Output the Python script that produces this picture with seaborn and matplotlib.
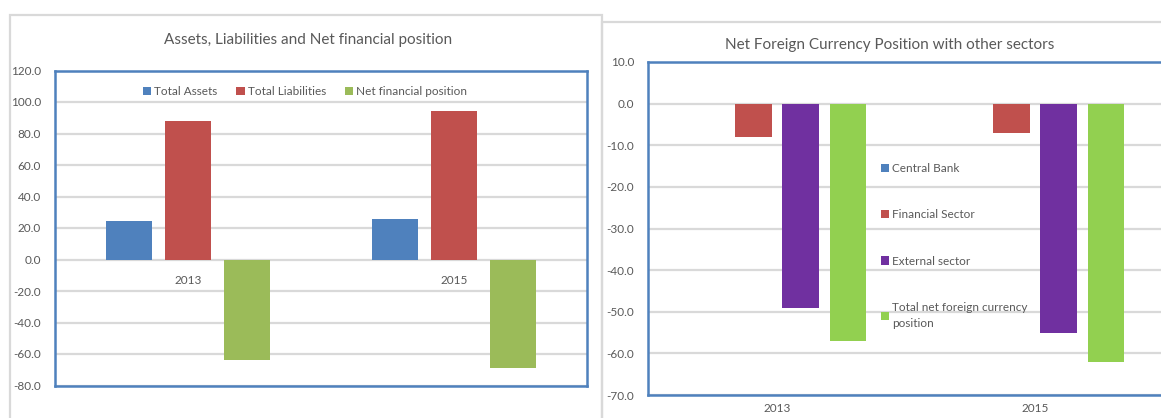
import pandas as pd
import matplotlib.pyplot as plt
import matplotlib.ticker as mticker
from matplotlib.patches import Rectangle
import seaborn as sns

# data
years = ["2013", "2015"]

assets = [24.4, 25.7]
liabilities = [88.0, 94.3]
net_position = [-63.6, -68.7]
left_series = ["Total Assets", "Total Liabilities", "Net financial position"]

central_bank = [0.0, 0.0]
financial_sector = [-7.9, -7.1]
external_sector = [-49.0, -55.0]
total_net_fx = [-57.0, -62.0]
right_series = ["Central Bank", "Financial Sector", "External sector",
                "Total net foreign currency\nposition"]

left_colors = ["#4F81BD", "#C0504D", "#9BBB59"]
right_colors = ["#4F81BD", "#C0504D", "#7030A0", "#92D050"]

TXT = "#595959"
GRID = "#D9D9D9"
BOX = "#4F81BD"

sns.set_theme(style="white")
plt.rcParams["font.family"] = ["Lato", "DejaVu Sans"]
plt.rcParams["axes.unicode_minus"] = False


def long_form(series_names, columns):
    rows = []
    for name, vals in zip(series_names, columns):
        for yr, v in zip(years, vals):
            rows.append({"year": yr, "series": name, "value": v})
    return pd.DataFrame(rows)


left_df = long_form(left_series, [assets, liabilities, net_position])
right_df = long_form(right_series, [central_bank, financial_sector, external_sector, total_net_fx])

W, H = 1161, 418
fig = plt.figure(figsize=(W / 100, H / 100), dpi=100)


def px_rect(x0, y0, x1, y1):
    return [x0 / W, 1 - y1 / H, (x1 - x0) / W, (y1 - y0) / H]


# panel frames (light grey, like the Excel chart areas)
fig.add_artist(Rectangle((10 / W, -0.1), (602 - 10) / W, 1.1 - 15 / H,
                         transform=fig.transFigure, fill=False, ec=GRID, lw=1.6))
fig.add_artist(Rectangle((602 / W, -0.1), 1.0, 1.1 - 22 / H,
                         transform=fig.transFigure, fill=False, ec=GRID, lw=1.6))


def style_axes(ax, ymin, ymax, step):
    ax.set_ylim(ymin, ymax)
    ax.yaxis.set_major_locator(mticker.MultipleLocator(step))
    ax.yaxis.set_major_formatter(mticker.FormatStrFormatter("%.1f"))
    ax.yaxis.grid(True, color=GRID, lw=1.6)
    ax.set_axisbelow(True)
    for sp in ax.spines.values():
        sp.set_visible(True)
        sp.set_color(BOX)
        sp.set_linewidth(1.8)
    ax.tick_params(axis="y", length=0, pad=10, labelsize=8.5, labelcolor=TXT)
    ax.set_xlabel("")
    ax.set_ylabel("")


# ---- left chart
ax1 = fig.add_axes(px_rect(55, 70.5, 587, 385.5))
sns.barplot(data=left_df, x="year", y="value", hue="series", hue_order=left_series,
            palette=left_colors, saturation=1, width=0.665, gap=0.22,
            linewidth=0, ax=ax1)
style_axes(ax1, -80, 120, 20)
ax1.tick_params(axis="x", length=0, labelbottom=False)
# year labels sit right under the zero line
sec = ax1.secondary_xaxis((0 - (-80)) / (120 - (-80)))
sec.set_xticks(range(len(years)), years)
sec.tick_params(length=0, pad=11, labelsize=8.5, labelcolor=TXT)
sec.spines["bottom"].set_visible(False)
sns.move_legend(ax1, "upper center", bbox_to_anchor=(0.47, 0.985), ncol=3,
                frameon=False, title=None, fontsize=8.5, handlelength=0.7,
                handleheight=0.7, handletextpad=0.25, columnspacing=1.6,
                labelcolor=TXT)
fig.text(308 / W, 1 - 40 / H, "Assets, Liabilities and Net financial position",
         ha="center", va="center", fontsize=11, color=TXT)

# ---- right chart
ax2 = fig.add_axes(px_rect(648, 62, 1164, 395))
sns.barplot(data=right_df, x="year", y="value", hue="series", hue_order=right_series,
            palette=right_colors, saturation=1, width=0.733, gap=0.23,
            linewidth=0, ax=ax2)
style_axes(ax2, -70, 10, 10)
ax2.tick_params(axis="x", length=0, pad=6, labelsize=8.5, labelcolor=TXT)
sns.move_legend(ax2, "upper left", bbox_to_anchor=(0.44, 0.715), ncol=1,
                frameon=False, title=None, fontsize=8.5, handlelength=0.7,
                handleheight=0.7, handletextpad=0.25, labelspacing=3.0,
                borderpad=0, labelcolor=TXT)
for t in ax2.get_legend().get_texts():
    t.set_linespacing(1.5)
fig.text(890 / W, 1 - 45 / H, "Net Foreign Currency Position with other sectors",
         ha="center", va="center", fontsize=11, color=TXT)

fig.savefig("out.png", dpi=100)
